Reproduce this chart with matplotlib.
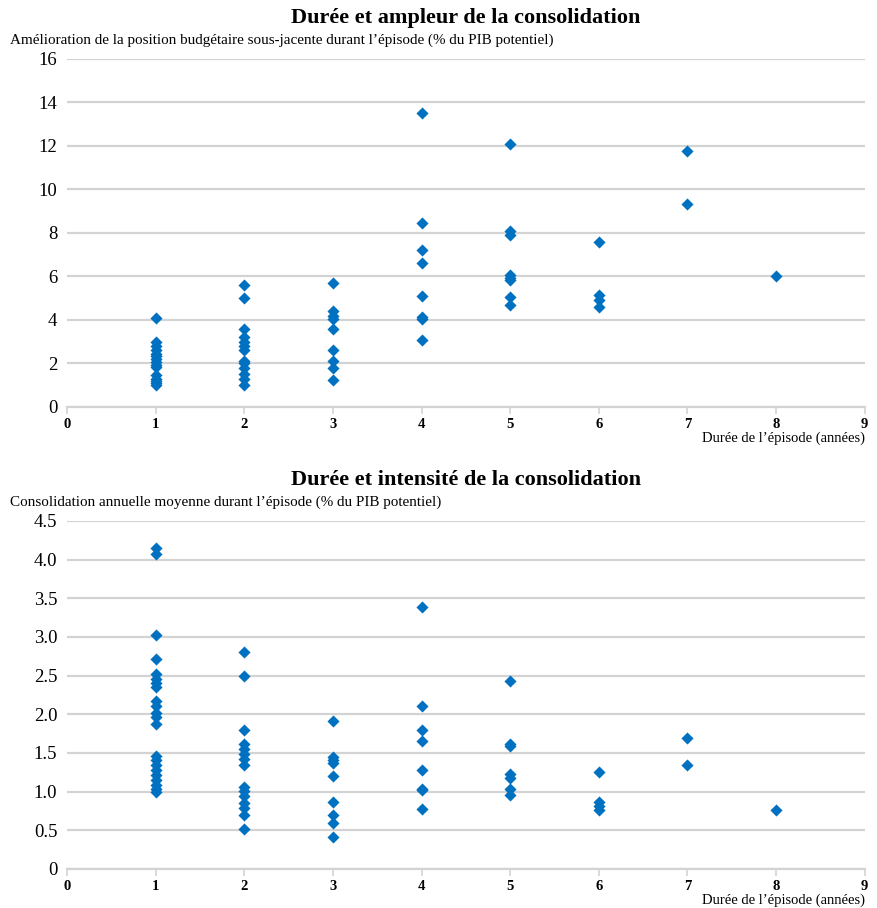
import matplotlib
matplotlib.use("Agg")
import matplotlib.pyplot as plt
from matplotlib.ticker import FuncFormatter

# Durée de l'épisode (années) -> valeurs
ampleur = {
    1: [4.1, 3.0, 2.8, 2.6, 2.45, 2.35, 2.2, 2.05, 1.95, 1.85, 1.45, 1.3, 1.2, 1.1, 1.0],
    2: [5.6, 5.0, 3.6, 3.2, 3.0, 2.8, 2.6, 2.1, 2.0, 1.8, 1.5, 1.3, 1.0],
    3: [5.7, 4.4, 4.2, 4.05, 3.6, 2.6, 2.1, 1.8, 1.25],
    4: [13.5, 8.45, 7.2, 6.6, 5.1, 4.15, 4.05, 3.1],
    5: [12.1, 8.1, 7.9, 6.05, 5.95, 5.85, 5.05, 4.7],
    6: [7.6, 5.15, 4.9, 4.6],
    7: [11.75, 9.35],
    8: [6.0],
}

intensite = {
    1: [4.15, 4.07, 3.02, 2.72, 2.52, 2.46, 2.4, 2.35, 2.17, 2.11, 2.01, 1.96, 1.88,
        1.46, 1.41, 1.35, 1.28, 1.22, 1.15, 1.09, 1.03, 1.0],
    2: [2.8, 2.5, 1.8, 1.61, 1.55, 1.48, 1.42, 1.35, 1.06, 1.01, 0.94, 0.85, 0.79, 0.7, 0.52],
    3: [1.91, 1.45, 1.41, 1.37, 1.2, 0.87, 0.7, 0.59, 0.41],
    4: [3.39, 2.11, 1.8, 1.65, 1.28, 1.04, 1.02, 0.78],
    5: [2.43, 1.62, 1.59, 1.23, 1.18, 1.03, 0.95],
    6: [1.26, 0.86, 0.81, 0.76],
    7: [1.69, 1.34],
    8: [0.76],
}

x_ticks = list(range(0, 10))
top_yticks = list(range(0, 17, 2))
bottom_yticks = [0, 0.5, 1.0, 1.5, 2.0, 2.5, 3.0, 3.5, 4.0, 4.5]

BLUE = "#0070C0"
GRID = "#d3d3d3"
SERIF = ["Liberation Serif", "DejaVu Serif"]

plt.rcParams["font.family"] = SERIF


def flatten(data):
    xs, ys = [], []
    for k, vals in data.items():
        xs.extend([k] * len(vals))
        ys.extend(vals)
    return xs, ys


def draw_panel(ax, data, yticks, ylim, title, ylabel, fmt):
    xs, ys = flatten(data)
    ax.scatter(xs, ys, marker="D", s=38, color=BLUE, linewidths=0, zorder=3)
    ax.set_xlim(0, 9)
    ax.set_ylim(*ylim)
    ax.set_yticks(yticks)
    ax.set_xticks(x_ticks)
    ax.yaxis.set_major_formatter(FuncFormatter(fmt))
    ax.grid(axis="y", color=GRID, linewidth=1.6, zorder=0)
    ax.grid(axis="x", visible=False)
    for side in ["left", "right", "top"]:
        ax.spines[side].set_visible(False)
    ax.spines["bottom"].set_color(GRID)
    ax.spines["bottom"].set_linewidth(1.6)
    ax.tick_params(axis="y", length=0, pad=7, labelsize=13.5)
    ax.tick_params(axis="x", length=5, width=1.2, color=GRID, pad=3, labelsize=10.5)
    for lab in ax.get_xticklabels():
        lab.set_fontweight("bold")
    ax.set_title(title, fontsize=16, fontweight="bold", pad=26)
    ax.text(-0.0715, 1.035, ylabel, transform=ax.transAxes, fontsize=10.9,
            ha="left", va="bottom")
    ax.text(1.0, -0.07, "Durée de l’épisode (années)", transform=ax.transAxes,
            fontsize=10.5, ha="right", va="top")


fig = plt.figure(figsize=(8.77, 9.08), dpi=100)
ax1 = fig.add_axes([0.0764, 0.5518, 0.9095, 0.3833])
ax2 = fig.add_axes([0.0764, 0.0430, 0.9095, 0.3833])

draw_panel(ax1, ampleur, top_yticks, (0, 16),
           "Durée et ampleur de la consolidation",
           "Amélioration de la position budgétaire sous-jacente durant l’épisode (% du PIB potentiel)",
           lambda v, pos: f"{v:.0f}")
draw_panel(ax2, intensite, bottom_yticks, (0, 4.5),
           "Durée et intensité de la consolidation",
           "Consolidation annuelle moyenne durant l’épisode (% du PIB potentiel)",
           lambda v, pos: "0" if v == 0 else f"{v:.1f}")

fig.savefig("out.png", dpi=100)
